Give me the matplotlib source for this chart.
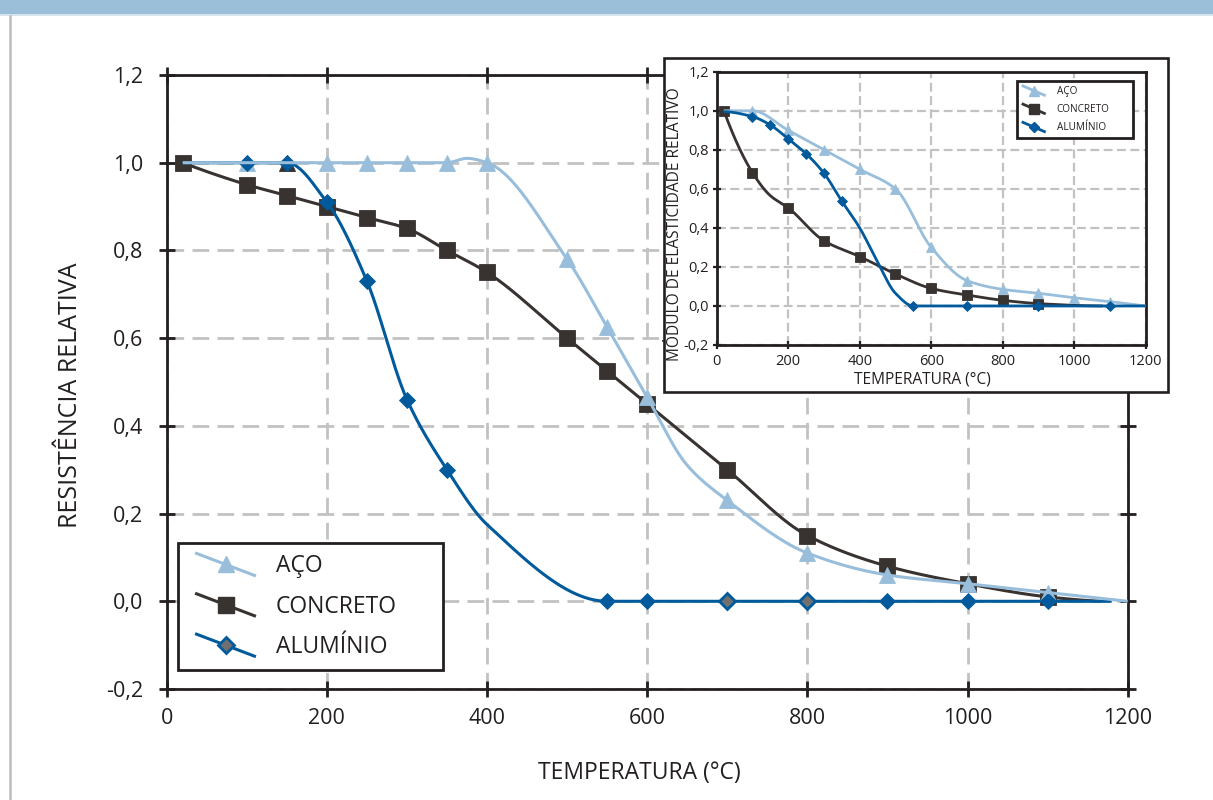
import numpy as np
import matplotlib
matplotlib.use("Agg")
import matplotlib.pyplot as plt
from matplotlib.patches import Rectangle
from matplotlib.lines import Line2D
from matplotlib.legend_handler import HandlerBase
from matplotlib.ticker import FuncFormatter

plt.rcParams["font.family"] = ["Open Sans", "DejaVu Sans"]

# ---------------- data: strength vs temperature (main chart) ----------------
LABELS = ["AÇO", "CONCRETO", "ALUMÍNIO"]

ACO_T = [20, 100, 150, 200, 250, 300, 350, 375, 400, 500, 550, 600, 650, 700, 800, 900, 1000, 1100, 1200]
ACO_V = [1.0, 1.0, 1.0, 1.0, 1.0, 1.0, 1.0, 1.01, 1.0, 0.78, 0.625, 0.465, 0.31, 0.23, 0.11, 0.06, 0.04, 0.02, 0.0]
ACO_MARK = [100, 150, 200, 250, 300, 350, 400, 500, 550, 600, 700, 800, 900, 1000, 1100]
ACO_DARK = [150]

CON_T = [20, 100, 150, 200, 250, 300, 350, 400, 500, 550, 600, 700, 800, 900, 1000, 1100, 1165]
CON_V = [1.0, 0.95, 0.925, 0.9, 0.875, 0.85, 0.80, 0.75, 0.60, 0.525, 0.45, 0.30, 0.15, 0.08, 0.04, 0.01, 0.0]
CON_MARK = [20, 100, 150, 200, 250, 300, 350, 400, 500, 550, 600, 700, 800, 900, 1000, 1100]

ALU_T = [20, 100, 150, 200, 250, 300, 350, 400, 550, 600, 700, 800, 900, 1000, 1100, 1180]
ALU_V = [1.0, 1.0, 1.0, 0.91, 0.73, 0.46, 0.30, 0.175, 0.0, 0.0, 0.0, 0.0, 0.0, 0.0, 0.0, 0.0]
ALU_MARK = [100, 150, 200, 250, 300, 350, 550, 600, 700, 800, 900, 1000, 1100]
ALU_GREY = [700, 800]

# ---------------- data: elastic modulus vs temperature (inset) ----------------
E_ACO_T = [20, 100, 200, 300, 400, 500, 600, 700, 800, 900, 1000, 1100, 1200]
E_ACO_V = [1.0, 1.0, 0.90, 0.80, 0.70, 0.60, 0.30, 0.13, 0.085, 0.065, 0.042, 0.022, 0.0]
E_ACO_MARK = [100, 200, 300, 400, 500, 600, 700, 800, 900, 1000, 1100]

E_CON_T = [20, 100, 150, 200, 300, 400, 500, 600, 700, 800, 900, 1080]
E_CON_V = [1.0, 0.683, 0.565, 0.503, 0.334, 0.253, 0.164, 0.09, 0.056, 0.029, 0.012, 0.0]
E_CON_MARK = [20, 100, 200, 300, 400, 500, 600, 700, 800, 900]

E_ALU_T = [20, 100, 150, 200, 250, 300, 350, 400, 450, 500, 550, 700, 900, 1100, 1200]
E_ALU_V = [0.995, 0.97, 0.927, 0.856, 0.78, 0.68, 0.537, 0.40, 0.225, 0.065, 0.0, 0.0, 0.0, 0.0, 0.0]
E_ALU_MARK = [100, 150, 200, 250, 300, 350, 550, 700, 900, 1100]

X_TICKS = [0, 200, 400, 600, 800, 1000, 1200]
Y_TICKS = [-0.2, 0.0, 0.2, 0.4, 0.6, 0.8, 1.0, 1.2]

C_ACO = "#98BEDB"
C_CON = "#383230"
C_ALU = "#005A9B"
C_GREY_FILL = "#707070"
C_INK = "#231F20"
C_GRID = "#C2C2C2"


def pchip(x, y, xs):
    """Monotone piecewise-cubic Hermite curve through the knots (x, y)."""
    x = np.asarray(x, float)
    y = np.asarray(y, float)
    h = np.diff(x)
    d = np.diff(y) / h
    n = len(x)
    m = np.zeros(n)
    for k in range(1, n - 1):
        if d[k - 1] * d[k] > 0:
            w1 = 2 * h[k] + h[k - 1]
            w2 = h[k] + 2 * h[k - 1]
            m[k] = (w1 + w2) / (w1 / d[k - 1] + w2 / d[k])

    def edge(h0, h1, m0, m1):
        e = ((2 * h0 + h1) * m0 - h0 * m1) / (h0 + h1)
        if np.sign(e) != np.sign(m0):
            e = 0.0
        elif np.sign(m0) != np.sign(m1) and abs(e) > abs(3 * m0):
            e = 3 * m0
        return e

    m[0] = edge(h[0], h[1], d[0], d[1])
    m[-1] = edge(h[-1], h[-2], d[-1], d[-2])
    xs = np.asarray(xs, float)
    i = np.clip(np.searchsorted(x, xs, side="right") - 1, 0, n - 2)
    t = (xs - x[i]) / h[i]
    h00 = 2 * t**3 - 3 * t**2 + 1
    h10 = t**3 - 2 * t**2 + t
    h01 = -2 * t**3 + 3 * t**2
    h11 = t**3 - t**2
    return h00 * y[i] + h10 * h[i] * m[i] + h01 * y[i + 1] + h11 * h[i] * m[i + 1]


def draw_series(ax, T, V, marks, color, lw, marker, ms, z_line, z_mark, mfc=None):
    xs = np.linspace(T[0], T[-1], 600)
    line, = ax.plot(xs, pchip(T, V, xs), color=color, lw=lw, zorder=z_line,
                    solid_capstyle="butt")
    lookup = dict(zip(T, V))
    ax.plot(marks, [lookup[t] for t in marks], ls="none", marker=marker, ms=ms,
            mfc=mfc or color, mec=color, mew=0.6, zorder=z_mark)
    return line


class SlantedHandler(HandlerBase):
    """Legend key: a short descending line with the marker at its middle."""

    def __init__(self, marker, ms, lw, mfc=None, mec=None, mew=1.0, lead=0.0, slope=0.38):
        super().__init__()
        self.marker, self.ms, self.lw = marker, ms, lw
        self.mfc, self.mec, self.mew = mfc, mec, mew
        self.lead, self.slope = lead, slope

    def create_artists(self, legend, orig_handle, xdescent, ydescent, width, height,
                       fontsize, trans):
        color = orig_handle.get_color()
        x0 = -xdescent + self.lead * width
        x1 = -xdescent + width
        yc = -ydescent + height / 2
        dy = self.slope * (x1 - x0) / 2
        ln = Line2D([x0, x1], [yc + dy, yc - dy], color=color, lw=self.lw,
                    solid_capstyle="butt")
        mk = Line2D([(x0 + x1) / 2], [yc], ls="none", marker=self.marker, ms=self.ms,
                    mfc=self.mfc or color, mec=self.mec or color, mew=self.mew)
        ln.set_transform(trans)
        mk.set_transform(trans)
        return [ln, mk]


def comma(v, pos):
    v = round(v, 1)
    if v == 0:
        v = 0.0
    return f"{v:.1f}".replace(".", ",")


W, H = 1213, 800
fig = plt.figure(figsize=(W / 100, H / 100), dpi=100)

# page decorations: header band and left rule
fig.add_artist(Rectangle((0, 1 - 14 / H), 1, 14 / H, transform=fig.transFigure,
                         facecolor="#9BBED9", edgecolor="none", zorder=5))
fig.add_artist(Rectangle((0, 1 - 16 / H), 1, 2 / H, transform=fig.transFigure,
                         facecolor="#D5E3EF", edgecolor="none", zorder=5))
fig.add_artist(Line2D([10 / W, 10 / W], [0, 1 - 16 / H], transform=fig.transFigure,
                      color="#BDBDBD", lw=1.8, zorder=5))

# ---------------- main chart ----------------
ax = fig.add_axes([166.7 / W, 1 - 689 / H, (1127.7 - 166.7) / W, (689 - 75) / H])
ax.set_xlim(0, 1200)
ax.set_ylim(-0.2, 1.2)
ax.set_xticks(X_TICKS)
ax.set_yticks(Y_TICKS)
ax.yaxis.set_major_formatter(FuncFormatter(comma))
ax.set_axisbelow(True)
ax.grid(True, ls=(0, (6, 3)), color=C_GRID, lw=2.0)
for s in ax.spines.values():
    s.set_linewidth(2.0)
    s.set_color(C_INK)
ax.tick_params(direction="inout", length=12, width=2.0, color=C_INK, top=True, right=True,
               labelsize=15.5, labelcolor=C_INK)
ax.tick_params(axis="x", pad=8)
ax.tick_params(axis="y", pad=11)

l_con = draw_series(ax, CON_T, CON_V, CON_MARK, C_CON, 2.2, "s", 12, 3, 3.1)
l_aco = draw_series(ax, ACO_T, ACO_V, ACO_MARK, C_ACO, 2.2, "^", 12, 4.5, 3.5)
l_alu = draw_series(ax, ALU_T, ALU_V, ALU_MARK, C_ALU, 2.2, "D", 8, 4, 4.1)
aco_lookup = dict(zip(ACO_T, ACO_V))
ax.plot(ACO_DARK, [aco_lookup[t] for t in ACO_DARK], ls="none", marker="^", ms=11,
        mfc=C_CON, mec=C_CON, mew=0.6, zorder=3.6)
alu_lookup = dict(zip(ALU_T, ALU_V))
ax.plot(ALU_GREY, [alu_lookup[t] for t in ALU_GREY], ls="none", marker="D", ms=8,
        mfc=C_GREY_FILL, mec=C_ALU, mew=2.0, zorder=4.2)

ax.set_xlabel("TEMPERATURA (°C)", fontsize=16.5, color=C_INK)
ax.set_ylabel("RESISTÊNCIA RELATIVA", fontsize=18, color=C_INK)
ax.xaxis.set_label_coords((639 - 166.7) / 961, -(773 - 689) / 614)
ax.yaxis.set_label_coords(-(166.7 - 70) / 961, (689 - 395) / 614)
for lab in (ax.xaxis.label, ax.yaxis.label):
    lab.set_va("center")
    lab.set_ha("center")

fs_main = 16.5
leg = ax.legend(
    [l_aco, l_con, l_alu], LABELS, loc="upper left",
    bbox_to_anchor=((178 - 166.7) / 961, 0, (443 - 178) / 961, (689 - 542.7) / 614),
    mode="expand", fontsize=fs_main, frameon=True, fancybox=False, framealpha=1,
    edgecolor=C_INK, borderpad=0.5, labelspacing=0.71, handlelength=2.9,
    handletextpad=0.88, borderaxespad=0, handleheight=1.0,
    handler_map={
        l_aco: SlantedHandler("^", 12, 2.2, lead=0.085),
        l_con: SlantedHandler("s", 12, 2.2, lead=0.085),
        l_alu: SlantedHandler("D", 8, 2.2, mfc=C_GREY_FILL, mec=C_ALU, mew=2.0, lead=0.085),
    })
leg.get_frame().set_linewidth(2.0)
for t in leg.get_texts():
    t.set_color(C_INK)

# ---------------- inset: elastic modulus ----------------
fig.add_artist(Rectangle((664 / W, 1 - 392 / H), (1168 - 664) / W, (392 - 58) / H,
                         transform=fig.transFigure, facecolor="white", edgecolor=C_INK,
                         lw=1.9, zorder=1))

axi = fig.add_axes([716.7 / W, 1 - 345 / H, (1145.7 - 716.7) / W, (345 - 71.7) / H], zorder=2)
axi.set_xlim(0, 1200)
axi.set_ylim(-0.2, 1.2)
axi.set_xticks(X_TICKS)
axi.set_yticks(Y_TICKS)
axi.yaxis.set_major_formatter(FuncFormatter(comma))
axi.set_axisbelow(True)
axi.grid(True, ls=(0, (4, 2)), color=C_GRID, lw=1.6)
for s in axi.spines.values():
    s.set_linewidth(2.0)
    s.set_color(C_INK)
axi.tick_params(direction="inout", length=6, width=1.6, color=C_INK, labelsize=10.5,
                labelcolor=C_INK)
axi.tick_params(axis="x", pad=3.5)
axi.tick_params(axis="y", pad=2.5)

e_con = draw_series(axi, E_CON_T, E_CON_V, E_CON_MARK, C_CON, 2.0, "s", 6.5, 3, 3.1)
e_aco = draw_series(axi, E_ACO_T, E_ACO_V, E_ACO_MARK, C_ACO, 2.0, "^", 7.5, 3.4, 3.5)
e_alu = draw_series(axi, E_ALU_T, E_ALU_V, E_ALU_MARK, C_ALU, 2.0, "D", 5, 4, 4.1)

axi.set_xlabel("TEMPERATURA (°C)", fontsize=11.2, color=C_INK)
axi.set_ylabel("MÓDULO DE ELASTICIDADE RELATIVO", fontsize=11.2, color=C_INK)
axi.xaxis.set_label_coords((922.5 - 716.7) / 429, -(380 - 345) / 273.3)
axi.yaxis.set_label_coords(-(716.7 - 675) / 429, (345 - 224) / 273.3)
for lab in (axi.xaxis.label, axi.yaxis.label):
    lab.set_va("center")
    lab.set_ha("center")

legi = axi.legend(
    [e_aco, e_con, e_alu], LABELS, loc="upper left",
    bbox_to_anchor=((1016.7 - 716.7) / 429, 0, (1133 - 1016.7) / 429, (345 - 81) / 273.3),
    mode="expand", fontsize=7.2, frameon=True, fancybox=False, framealpha=1,
    edgecolor=C_INK, borderpad=0.5, labelspacing=0.72, handlelength=2.4,
    handletextpad=1.1, borderaxespad=0, handleheight=1.0,
    handler_map={
        e_aco: SlantedHandler("^", 7.5, 2.0, slope=0.43),
        e_con: SlantedHandler("s", 6.5, 2.0, slope=0.43),
        e_alu: SlantedHandler("D", 5, 2.0, slope=0.43),
    })
legi.get_frame().set_linewidth(2.0)
for t in legi.get_texts():
    t.set_color(C_INK)

fig.savefig("out.png", dpi=100)
